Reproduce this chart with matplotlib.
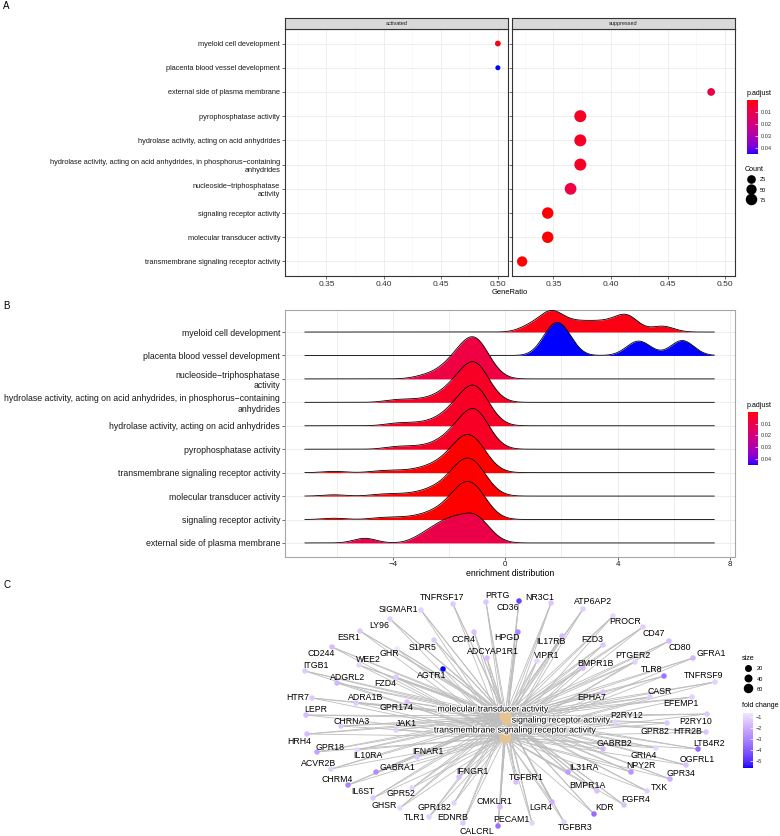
import numpy as np
import matplotlib
matplotlib.use("Agg")
import matplotlib.pyplot as plt
from matplotlib.collections import LineCollection
from matplotlib.colors import ListedColormap, Normalize, to_rgb
from matplotlib.cm import ScalarMappable
from matplotlib.lines import Line2D
import matplotlib.patheffects as pe

plt.rcParams["font.family"] = ["Liberation Sans", "DejaVu Sans"]

# ---------------- enriched GO terms (panel A order, top to bottom) ----------------
terms = [
    "myeloid cell development",
    "placenta blood vessel development",
    "external side of plasma membrane",
    "pyrophosphatase activity",
    "hydrolase activity, acting on acid anhydrides",
    "hydrolase activity, acting on acid anhydrides, in phosphorus\u2212containing\nanhydrides",
    "nucleoside\u2212triphosphatase\nactivity",
    "signaling receptor activity",
    "molecular transducer activity",
    "transmembrane signaling receptor activity",
]
term_group = ["activated", "activated"] + ["suppressed"] * 8
gene_ratio = [0.500, 0.500, 0.488, 0.3735, 0.3735, 0.3735, 0.365, 0.345, 0.345, 0.3226]
gene_count = [3, 2, 15, 86, 86, 86, 80, 74, 74, 50]
p_adjust = [0.002, 0.045, 0.010, 0.004, 0.004, 0.004, 0.009, 0.0003, 0.0003, 0.0003]

# panel B rows, top to bottom (indices into terms)
ridge_order = [0, 1, 6, 5, 4, 3, 9, 8, 7, 2]

# core-gene log fold changes per term: value and number of genes at that value
ridge_fc = [
    [0.9, 1.6, 2.1, 2.6, 3.1, 3.6, 4.1, 4.4, 5.6],
    [1.6, 1.85, 2.1, 4.6, 4.9, 6.2, 6.4],
    [-5.0, -3.0, -2.5, -2.0, -1.5, -1.0, -0.5],
    [-4.0, -3.5, -3.0, -2.5, -2.0, -1.5, -1.0, -0.5],
    [-4.0, -3.5, -3.0, -2.5, -2.0, -1.5, -1.0, -0.5],
    [-4.0, -3.5, -3.0, -2.5, -2.0, -1.5, -1.0, -0.5],
    [-3.0, -2.5, -2.0, -1.5, -1.0, -0.5],
    [-6.1, -4.5, -4.0, -3.5, -3.0, -2.5, -2.0, -1.5, -1.0, -0.5],
    [-6.1, -4.5, -4.0, -3.5, -3.0, -2.5, -2.0, -1.5, -1.0, -0.5],
    [-6.1, -4.5, -4.0, -3.5, -3.0, -2.5, -2.0, -1.5, -1.0, -0.5],
]
ridge_n = [
    [1, 3, 1, 1, 1, 1, 1, 2, 1],
    [2, 1, 2, 1, 1, 1, 1],
    [1, 1, 2, 3, 3, 4, 1],
    [1, 1, 1, 2, 5, 11, 16, 4],
    [1, 1, 1, 2, 5, 11, 16, 4],
    [1, 1, 1, 2, 5, 11, 16, 4],
    [1, 2, 5, 11, 15, 4],
    [1, 1, 1, 1, 2, 4, 8, 18, 16, 3],
    [1, 1, 1, 1, 2, 4, 8, 18, 16, 3],
    [1, 1, 1, 1, 2, 4, 8, 18, 16, 3],
]
fc_range = (-7.13, 7.44)

# ---------------- gene-concept network (panel C) ----------------
categories = ["molecular transducer activity", "signaling receptor activity",
              "transmembrane signaling receptor activity"]
cat_x = [0.00, 0.02, 0.00]
cat_y = [0.10, 0.07, -0.11]

genes = ["TNFRSF17", "SIGMAR1", "LY96", "ESR1", "CCR4", "S1PR5", "CD244", "GHR", "WEE2", "ITGB1",
         "AGTR1", "ADGRL2", "FZD4", "HPGD", "ADCYAP1R1", "PRTG", "CD36", "NR3C1", "ATP6AP2", "PROCR",
         "CD47", "CD80", "GFRA1", "TNFRSF9", "IL17RB", "FZD3", "VIPR1", "BMPR1B", "PTGER2", "TLR8",
         "CASR", "EPHA7", "EFEMP1", "P2RY12", "P2RY10", "GPR82", "HTR2B", "LTB4R2", "GABRB2", "GRIA4",
         "OGFRL1", "NPY2R", "GPR34", "TXK", "FGFR4", "KDR", "BMPR1A", "IL31RA", "TGFBR1", "LGR4",
         "TGFBR3", "PECAM1", "CMKLR1", "CALCRL", "EDNRB", "GPR182", "TLR1", "IFNGR1", "GPR52", "GHSR",
         "IL6ST", "CHRM4", "GABRA1", "ACVR2B", "IFNAR1", "IL10RA", "GPR18", "HRH4", "JAK1", "CHRNA3",
         "LEPR", "HTR7", "ADRA1B", "GPR174"]
gene_fc = [-1.3, -1.1, -1.2, -1.3, -1.5, -1.3, -1.6, -0.64, -1.0, -1.3,
           -5.64, -1.8, -1.3, -3.0, -1.6, -1.4, -4.6, -1.4, -1.2, -1.0,
           -1.2, -1.6, -1.8, -1.1, -1.6, -1.3, -1.0, -1.6, -1.1, -3.4,
           -1.2, -1.4, -1.2, -1.1, -1.3, -1.3, -1.4, -3.6, -1.8, -1.0,
           -1.5, -2.6, -2.0, -1.2, -1.5, -3.6, -1.5, -2.4, -1.6, -1.9,
           -1.1, -1.1, -1.6, -3.5, -1.3, -1.1, -1.1, -1.5, -1.1, -1.0,
           -1.3, -3.0, -2.8, -1.1, -1.3, -1.0, -2.3, -1.6, -1.1, -1.3,
           -1.6, -1.3, -1.3, -1.5]
# network layout
node_x = [-0.52, -0.84, -1.15, -1.45, -0.31, -0.71, -1.73, -1.08, -1.46, -2.00,
          -0.62, -1.68, -1.09, 0.13, -0.18, -0.19, 0.14, 0.46, 0.78, 1.08,
          1.38, 1.64, 1.88, 2.10, 0.57, 0.98, 0.32, 0.78, 1.30, 1.59,
          1.45, 0.98, 1.87, 1.10, 2.02, 1.62, 2.01, 1.93, 0.98, 1.51,
          1.81, 1.26, 1.65, 1.42, 1.19, 0.89, 0.92, 0.63, 0.11, 0.47,
          0.59, 0.27, -0.05, -0.07, -0.42, -0.51, -0.76, -0.46, -0.93, -1.05,
          -1.32, -1.57, -1.29, -1.74, -0.88, -1.48, -1.88, -1.98, -1.09, -1.64,
          -1.99, -1.93, -1.49, -0.98]
node_y = [1.22, 1.16, 1.07, 0.95, 0.94, 0.86, 0.79, 0.77, 0.61, 0.55,
          0.57, 0.43, 0.49, 0.94, 0.68, 1.24, 1.25, 1.23, 1.17, 1.10,
          0.99, 0.85, 0.68, 0.44, 0.90, 0.81, 0.65, 0.58, 0.64, 0.50,
          0.29, 0.34, 0.29, 0.04, 0.12, 0.03, -0.06, -0.23, -0.23, -0.22,
          -0.39, -0.46, -0.53, -0.65, -0.79, -0.88, -0.65, -0.46, -0.56, -0.76,
          -0.96, -0.97, -0.81, -1.00, -0.97, -0.77, -0.91, -0.51, -0.62, -0.82,
          -0.72, -0.59, -0.46, -0.43, -0.31, -0.24, -0.26, -0.08, -0.04, 0.00,
          0.11, 0.28, 0.23, 0.24]

# repelled label positions (layout units)
label_x = [-0.63, -1.07, -1.26, -1.56, -0.42, -0.82, -1.84, -1.16, -1.37, -1.89,
           -0.73, -1.57, -1.20, 0.02, -0.12, -0.08, 0.03, 0.35, 0.88, 1.20,
           1.49, 1.75, 2.06, 1.99, 0.46, 0.87, 0.42, 0.90, 1.28, 1.47,
           1.55, 0.87, 1.76, 1.22, 1.91, 1.50, 1.83, 2.04, 1.09, 1.39,
           1.92, 1.36, 1.76, 1.54, 1.31, 1.00, 0.82, 0.79, 0.21, 0.36,
           0.70, 0.06, -0.11, -0.28, -0.52, -0.71, -0.90, -0.33, -1.04, -1.21,
           -1.42, -1.68, -1.08, -1.86, -0.77, -1.37, -1.75, -2.06, -0.99, -1.53,
           -1.89, -2.07, -1.39, -1.09]
label_y = [1.28, 1.16, 1.00, 0.88, 0.87, 0.79, 0.72, 0.72, 0.66, 0.61,
           0.50, 0.49, 0.43, 0.88, 0.74, 1.31, 1.19, 1.29, 1.24, 1.04,
           0.93, 0.79, 0.73, 0.50, 0.84, 0.87, 0.71, 0.63, 0.71, 0.57,
           0.34, 0.29, 0.22, 0.10, 0.05, -0.05, -0.05, -0.17, -0.17, -0.29,
           -0.33, -0.40, -0.47, -0.61, -0.73, -0.82, -0.60, -0.41, -0.51, -0.82,
           -1.01, -0.93, -0.75, -1.05, -0.92, -0.81, -0.91, -0.45, -0.68, -0.80,
           -0.66, -0.53, -0.41, -0.37, -0.25, -0.30, -0.21, -0.15, 0.02, 0.05,
           0.17, 0.28, 0.29, 0.18]
cat_label_x = [-0.12, 0.56, 0.10]
cat_label_y = [0.17, 0.06, -0.04]
size_legend = [20, 40, 60]
count_legend = [25, 50, 75]


# ---------------- colour helpers (ggplot interpolates in Lab) ----------------
RGB2XYZ = np.array([[0.4124, 0.3576, 0.1805],
                    [0.2126, 0.7152, 0.0722],
                    [0.0193, 0.1192, 0.9505]])
WHITE = np.array([0.95047, 1.0, 1.08883])


def srgb_to_lab(rgb):
    rgb = np.asarray(rgb, dtype=float)
    lin = np.where(rgb <= 0.04045, rgb / 12.92, ((rgb + 0.055) / 1.055) ** 2.4)
    xyz = lin @ RGB2XYZ.T / WHITE
    d = 6 / 29
    f = np.where(xyz > d ** 3, np.cbrt(xyz), xyz / (3 * d * d) + 4 / 29)
    return np.stack([116 * f[..., 1] - 16,
                     500 * (f[..., 0] - f[..., 1]),
                     200 * (f[..., 1] - f[..., 2])], axis=-1)


def lab_to_srgb(lab):
    fy = (lab[..., 0] + 16) / 116
    f = np.stack([fy + lab[..., 1] / 500, fy, fy - lab[..., 2] / 200], axis=-1)
    d = 6 / 29
    xyz = np.where(f > d, f ** 3, 3 * d * d * (f - 4 / 29)) * WHITE
    lin = np.clip(xyz @ np.linalg.inv(RGB2XYZ).T, 0, 1)
    rgb = np.where(lin <= 0.0031308, 12.92 * lin, 1.055 * lin ** (1 / 2.4) - 0.055)
    return np.clip(rgb, 0, 1)


def lab_mix(c1, c2, t):
    l1, l2 = srgb_to_lab(to_rgb(c1)), srgb_to_lab(to_rgb(c2))
    t = np.asarray(t, dtype=float)[..., None]
    return lab_to_srgb(l1 + (l2 - l1) * t)


cmap_p = ListedColormap(lab_mix("red", "blue", np.linspace(0, 1, 256)))
norm_p = Normalize(min(p_adjust), max(p_adjust))

fc_lo, fc_hi = min(gene_fc), max(gene_fc)
cmap_fc = ListedColormap(lab_mix("blue", "white", np.linspace(0, 1 + fc_hi / abs(fc_lo), 256)))
norm_fc = Normalize(fc_lo, fc_hi)


def px_pt(d_px):
    return d_px * 72 / 100


def dot_diam(c, lo=min(gene_count), hi=max(gene_count), rng=(5.0, 12.0)):
    c = np.asarray(c, dtype=float)
    return rng[0] + (rng[1] - rng[0]) * np.sqrt(np.clip((c - lo) / (hi - lo), 0, 1))


def p_colorbar(fig, rect, title_xy):
    cax = fig.add_axes(rect)
    cb = fig.colorbar(ScalarMappable(norm=norm_p, cmap=cmap_p), cax=cax)
    cax.invert_yaxis()
    cb.outline.set_visible(False)
    cb.set_ticks([0.01, 0.02, 0.03, 0.04])
    cb.set_ticklabels(["0.01", "0.02", "0.03", "0.04"])
    cax.tick_params(labelsize=4.1, length=2, width=0.5, direction="in", color="white",
                    pad=2, labelcolor="#333333")
    fig.text(title_xy[0], title_xy[1], "p.adjust", fontsize=5.1, ha="left", va="bottom")


def dot_legend(fig, title, labels, diams, anchor):
    handles = [Line2D([], [], marker="o", ls="", color="black", markeredgewidth=0,
                      markersize=px_pt(d)) for d in diams]
    leg = fig.legend(handles, labels, loc="upper left", bbox_to_anchor=anchor,
                     frameon=False, title=title, fontsize=4.1, title_fontsize=5.1,
                     handletextpad=0.4, labelspacing=0.5, handleheight=1.6,
                     borderaxespad=0, borderpad=0, handlelength=2.2)
    leg._legend_box.align = "left"


fig = plt.figure(figsize=(7.8, 8.36), dpi=100)
W, H = 780, 836


def rect(x0, y0, x1, y1):
    return [x0 / W, 1 - y1 / H, (x1 - x0) / W, (y1 - y0) / H]


# ======================= Panel A: dot plot =======================
n_terms = len(terms)
row_a = np.arange(n_terms, 0, -1)
x_lo, x_hi = min(gene_ratio), max(gene_ratio)
pad = (x_hi - x_lo) * 0.05
for k, (grp, x0, x1) in enumerate([("activated", 285, 508), ("suppressed", 512, 735)]):
    ax = fig.add_axes(rect(x0, 29, x1, 276))
    ax.set_xlim(x_lo - pad, x_hi + pad)
    ax.set_ylim(0.4, n_terms + 0.6)
    ax.set_xticks([0.35, 0.40, 0.45, 0.50])
    ax.set_xticks([0.325, 0.375, 0.425, 0.475], minor=True)
    ax.set_yticks(row_a)
    ax.grid(True, which="major", color="#EBEBEB", lw=0.6)
    ax.grid(True, which="minor", axis="x", color="#F3F3F3", lw=0.4)
    ax.set_axisbelow(True)
    for s in ax.spines.values():
        s.set_color("#333333")
        s.set_linewidth(0.8)
    ax.tick_params(axis="both", which="major", length=2, width=0.5, color="#333333",
                   labelcolor="#333333", pad=1.5)
    ax.tick_params(axis="x", labelsize=6.0)
    ax.tick_params(axis="x", which="minor", length=0)
    if k == 0:
        ax.set_yticklabels(terms, fontsize=5.3, color="#1A1A1A")
    else:
        ax.set_yticklabels([])
    idx = [i for i in range(n_terms) if term_group[i] == grp]
    ax.scatter([gene_ratio[i] for i in idx], [row_a[i] for i in idx],
               s=px_pt(dot_diam([gene_count[i] for i in idx])) ** 2,
               c=[p_adjust[i] for i in idx], cmap=cmap_p, norm=norm_p, lw=0, zorder=3)
    sax = fig.add_axes(rect(x0, 18, x1, 29))
    sax.set_facecolor("#D9D9D9")
    sax.set_xticks([])
    sax.set_yticks([])
    for s in sax.spines.values():
        s.set_color("#333333")
        s.set_linewidth(0.8)
    sax.text(0.5, 0.5, grp, fontsize=4, ha="center", va="center", color="#1A1A1A",
             transform=sax.transAxes)

fig.text(510 / W, 1 - 292 / H, "GeneRatio", fontsize=5.4, ha="center", va="center")
p_colorbar(fig, rect(747, 100, 758, 154), (747 / W, 1 - 97 / H))
dot_legend(fig, "Count", [str(c) for c in count_legend], dot_diam(count_legend),
           (745 / W, 1 - 166 / H))

# ======================= Panel B: ridge plot =======================
axB = fig.add_axes(rect(285, 310, 735, 557))
xg = np.linspace(fc_range[0], fc_range[1], 600)
bw = 0.4
dens = []
for vals, ns in zip(ridge_fc, ridge_n):
    v = np.asarray(vals)[:, None]
    w = np.asarray(ns, dtype=float)[:, None]
    d = (w * np.exp(-0.5 * ((xg[None, :] - v) / bw) ** 2)).sum(0) / (w.sum() * bw * np.sqrt(2 * np.pi))
    dens.append(d)
dmax = max(d.max() for d in dens)
scale = 1.8
for r, ti in enumerate(ridge_order):
    base = n_terms - r
    top = base + dens[ti] / dmax * scale
    axB.fill_between(xg, base, top, color=cmap_p(norm_p(p_adjust[ti])), lw=0, zorder=2 + 2 * r)
    axB.plot(xg, top, color="black", lw=0.6, zorder=3 + 2 * r)
axB.set_xlim(-7.84, 8.18)
axB.set_ylim(0.4, 10.94)
axB.set_xticks([-4, 0, 4, 8])
axB.set_xticks([-6, -2, 2, 6], minor=True)
axB.set_yticks([n_terms - r for r in range(n_terms)])
axB.set_yticklabels([terms[i] for i in ridge_order], fontsize=6.3, color="#1A1A1A")
axB.grid(True, which="both", color="#EBEBEB", lw=0.6)
axB.set_axisbelow(True)
for s in axB.spines.values():
    s.set_color("#A6A6A6")
    s.set_linewidth(0.8)
axB.tick_params(axis="both", which="major", length=2, width=0.5, color="#333333",
                labelcolor="#1A1A1A", pad=1.5)
axB.tick_params(axis="x", labelsize=5.8, pad=1)
axB.tick_params(which="minor", length=0)
fig.text(510 / W, 1 - 574 / H, "enrichment distribution", fontsize=6.3, ha="center", va="center")
p_colorbar(fig, rect(748, 412, 758, 465), (747 / W, 1 - 409 / H))

# ======================= Panel C: gene-concept network =======================
axC = fig.add_axes(rect(0, 580, 780, 836))
axC.set_xlim(-5.05, 2.75)
axC.set_ylim(-1.10, 1.46)
axC.axis("off")
segs = [[(gx, gy), (cx, cy)] for gx, gy in zip(node_x, node_y) for cx, cy in zip(cat_x, cat_y)]
axC.add_collection(LineCollection(segs, colors="#BDBDBD", linewidths=0.6, zorder=1))
axC.scatter(cat_x, cat_y, s=px_pt(12) ** 2, color="#E5C494", lw=0, zorder=3)
axC.scatter(node_x, node_y, s=px_pt(5.5) ** 2, c=gene_fc, cmap=cmap_fc, norm=norm_fc,
            lw=0, zorder=3)
for name, lx, ly in zip(genes, label_x, label_y):
    axC.text(lx, ly, name, fontsize=6.3, ha="center", va="center", zorder=4)
for name, lx, ly in zip(categories, cat_label_x, cat_label_y):
    axC.text(lx, ly, name, fontsize=6.3, ha="center", va="center", zorder=5,
             path_effects=[pe.withStroke(linewidth=1.5, foreground="white")])

dot_legend(fig, "size", [str(c) for c in size_legend], (7, 8, 9.5), (742 / W, 1 - 655 / H))

cax = fig.add_axes(rect(743, 713, 753, 768))
cb = fig.colorbar(ScalarMappable(norm=norm_fc, cmap=cmap_fc), cax=cax)
cb.outline.set_visible(False)
cb.set_ticks([-1, -2, -3, -4, -5])
cb.set_ticklabels(["\u22121", "\u22122", "\u22123", "\u22124", "\u22125"])
cax.tick_params(labelsize=4.1, length=2, width=0.5, direction="in", color="white",
                pad=2, labelcolor="#333333")
fig.text(742 / W, 1 - 709 / H, "fold change", fontsize=5.1, ha="left", va="bottom")

# panel tags
for tag, y in (("A", 6), ("B", 306), ("C", 585)):
    fig.text(3 / W, 1 - y / H, tag, fontsize=7, ha="left", va="center")

fig.savefig("out.png", dpi=100)
